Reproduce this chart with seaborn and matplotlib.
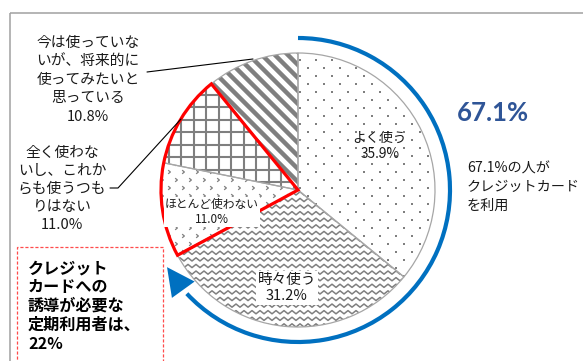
import numpy as np
import matplotlib
matplotlib.use("Agg")
import matplotlib.pyplot as plt
import seaborn as sns
from matplotlib.patches import Wedge, Arc, Polygon, Rectangle
from matplotlib.collections import LineCollection
from matplotlib.path import Path

# ---- data -------------------------------------------------------------
categories = [
    "よく使う",
    "時々使う",
    "ほとんど使わない",
    "全く使わないし、これからも使うつもりはない",
    "今は使っていないが、将来的に使ってみたいと思っている",
]
slice_labels = [
    "よく使う",
    "時々使う",
    "ほとんど使わない",
    "全く使わな\nいし、これか\nらも使うつも\nりはない",
    "今は使っていな\nいが、将来的に\n使ってみたいと\n思っている",
]
shares = [35.9, 31.2, 11.0, 11.0, 10.8]
users_idx = [0, 1]        # card users
target_idx = [2, 3]       # regular users to be guided to cards

users_share = sum(shares[i] for i in users_idx)
target_share = sum(shares[i] for i in target_idx)

# ---- style ------------------------------------------------------------
sns.set_theme(style="white")
plt.rcParams["font.family"] = ["Noto Sans CJK JP", "DejaVu Sans"]

W, H = 583, 361
fig = plt.figure(figsize=(W / 100, H / 100), dpi=100)
ax = fig.add_axes([0, 0, 1, 1])


def Y(y):
    return H - y


cx, cy, R = 298, Y(190), 137
PAT = "#7f7f7f"
EDGE = "#a6a6a6"

wedges, _ = ax.pie(shares, startangle=90, counterclock=False, center=(cx, cy),
                   radius=R, colors=["white"] * len(shares),
                   wedgeprops=dict(edgecolor="none", linewidth=0))
ax.set_xlim(0, W)
ax.set_ylim(0, H)
ax.set_aspect("equal")
ax.axis("off")

x0, x1 = cx - R - 5, cx + R + 5
y0, y1 = cy - R - 5, cy + R + 5


def add_lines(segs, wedge, lw):
    lc = LineCollection(segs, colors=PAT, linewidths=lw, zorder=2,
                        capstyle="butt")
    ax.add_collection(lc)
    lc.set_clip_path(wedge)


# よく使う : sparse staggered dots
pts = []
for j, yy in enumerate(np.arange(y0, y1, 8.0)):
    off = 0 if j % 2 == 0 else 8
    for xx in np.arange(x0 + off, x1, 16.0):
        pts.append((xx, yy))
pts = np.array(pts)
sc = ax.scatter(pts[:, 0], pts[:, 1], s=2.2, c=PAT, marker="s",
                linewidths=0, zorder=2)
sc.set_clip_path(wedges[0])

# 時々使う : zigzag rows
segs = []
for yy in np.arange(y0, y1, 6.6):
    xs = np.arange(x0, x1, 4.0)
    ys = yy + np.where(np.arange(len(xs)) % 2 == 0, 1.6, -1.6)
    segs.append(np.column_stack([xs, ys]))
add_lines(segs, wedges[1], 1.1)

# ほとんど使わない : small chevrons
chev = Path([(-1, 1), (0.2, 0), (-1, -1)],
            [Path.MOVETO, Path.LINETO, Path.LINETO])
pts = []
for j, yy in enumerate(np.arange(y0, y1, 8.0)):
    off = 0 if j % 2 == 0 else 7
    for xx in np.arange(x0 + off, x1, 14.0):
        pts.append((xx, yy))
pts = np.array(pts)
sc = ax.scatter(pts[:, 0], pts[:, 1], s=7, marker=chev, facecolors="none",
                edgecolors=PAT, linewidths=0.9, zorder=2)
sc.set_clip_path(wedges[2])

# 全く使わない : square grid
segs = [[(xx, y0), (xx, y1)] for xx in np.arange(x0, x1, 12.5)]
segs += [[(x0, yy), (x1, yy)] for yy in np.arange(y0, y1, 12.5)]
add_lines(segs, wedges[3], 1.5)

# 将来的に使いたい : thick diagonal stripes
segs = []
for c in np.arange(x0 + y0 - 20, x1 + y1 + 20, 13.0):
    segs.append([(x0 - 300, c - x0 + 300), (x1 + 300, c - x1 - 300)])
add_lines(segs, wedges[4], 3.2)

# slice outlines on top of the fills
ax.pie(shares, startangle=90, counterclock=False, center=(cx, cy), radius=R,
       colors=["none"] * len(shares),
       wedgeprops=dict(edgecolor=EDGE, linewidth=0.9, zorder=3))
ax.set_xlim(0, W)
ax.set_ylim(0, H)
ax.axis("off")

# red outline around the target group
cum = np.cumsum([0] + shares)
a_start = 90 - 360 * cum[target_idx[-1] + 1] / 100
a_end = 90 - 360 * cum[target_idx[0]] / 100
ax.add_patch(Wedge((cx, cy), R, a_start, a_end, fill=False, edgecolor="#ff0000",
                   linewidth=2.3, joinstyle="miter", zorder=4))

# in-slice labels
ax.text(380, Y(146), f"{slice_labels[0]}\n{shares[0]:.1f}%", ha="center",
        va="center", fontsize=9.8, color="#1a1a1a", linespacing=1.2, zorder=5)
ax.text(287, Y(288), f"{slice_labels[1]}\n{shares[1]:.1f}%", ha="center",
        va="center", fontsize=10.5, color="#1a1a1a", linespacing=1.25, zorder=5,
        bbox=dict(facecolor="white", edgecolor="none", pad=1.5))
ax.text(212, Y(212), f"{slice_labels[2]}\n{shares[2]:.1f}%", ha="center",
        va="center", fontsize=8.5, color="#1a1a1a", linespacing=1.2,
        zorder=5, bbox=dict(facecolor="white", edgecolor="none", pad=0.5))

# outside labels with leader lines
ax.text(88, Y(80), f"{slice_labels[4]}\n{shares[4]:.1f}%", ha="center",
        va="center", fontsize=10.6, color="#1a1a1a", linespacing=1.4)
ax.plot([147, 253], [Y(72), Y(59)], color="black", lw=0.8, zorder=5)

ax.text(62, Y(189), f"{slice_labels[3]}\n{shares[3]:.1f}%", ha="center",
        va="center", fontsize=10.6, color="#1a1a1a", linespacing=1.35)
ax.plot([110, 118, 181], [Y(188), Y(188), Y(119)], color="black", lw=0.8,
        zorder=5)

# blue arrow around the card-user slices
Ra = 152
tip_ang, base_ang = 210.5, 221.0
ax.add_patch(Arc((cx, cy), 2 * Ra, 2 * Ra, theta1=base_ang - 360 + 2,
                 theta2=90, color="#0070c0", linewidth=3.0, zorder=3))
tip = np.array([cx + Ra * np.cos(np.radians(tip_ang)),
                cy + Ra * np.sin(np.radians(tip_ang))])
base = np.array([cx + Ra * np.cos(np.radians(base_ang)),
                 cy + Ra * np.sin(np.radians(base_ang))])
d = tip - base
n = np.array([-d[1], d[0]]) / np.linalg.norm(d)
ax.add_patch(Polygon([tip, base + 14 * n, base - 14 * n], closed=True,
                     facecolor="#0070c0", edgecolor="none", zorder=3))

# right-hand annotation
ax.text(457, Y(113), f"{users_share:.1f}%", ha="left", va="center",
        fontsize=18.5, fontweight="bold", color="#2f5597",
        family=["Lato", "DejaVu Sans"])
ax.text(467, Y(187), f"{users_share:.1f}%の人が\nクレジットカード\nを利用",
        ha="left", va="center", fontsize=10.2, color="#1a1a1a", linespacing=1.4)

# dashed callout box
ax.add_patch(Rectangle((17, Y(370)), 146, 123, fill=False,
                       edgecolor="#ff4b4b", linewidth=0.9,
                       linestyle=(0, (2.5, 1.5)), zorder=2))
ax.text(28, Y(306), f"クレジット\nカードへの\n誘導が必要な\n定期利用者は、\n{target_share:.0f}%",
        ha="left", va="center", fontsize=11.6, fontweight="bold",
        color="black", linespacing=1.22)

# frame lines
ax.plot([10, W], [Y(12.5), Y(12.5)], color="#a0a0a0", lw=1.1,
        solid_capstyle="butt")
ax.plot([10, 10], [Y(12.5), 0], color="#a0a0a0", lw=1.1,
        solid_capstyle="butt")

fig.savefig("out.png", dpi=100)
